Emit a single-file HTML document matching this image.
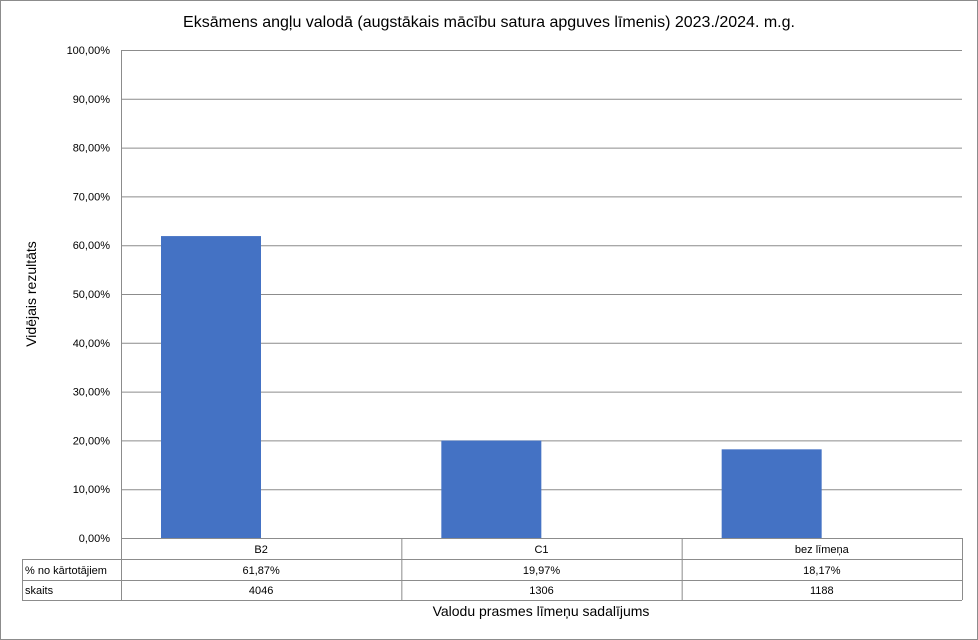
<!DOCTYPE html>
<html><head><meta charset="utf-8"><style>
body{margin:0;background:#fff}
svg{display:block;font-family:"Liberation Sans","DejaVu Sans",sans-serif}
</style></head><body>
<svg id="c" width="978" height="640" viewBox="0 0 978 640">
<rect x="0.5" y="0.5" width="977" height="639" fill="#fff" stroke="#8c8c8c"/>
<text x="489" y="27" text-anchor="middle" font-size="16" fill="#000">Eksāmens angļu valodā (augstākais mācību satura apguves līmenis) 2023./2024. m.g.</text>
<text transform="translate(36,294) rotate(-90)" text-anchor="middle" font-size="14">Vidējais rezultāts</text>
<text x="541" y="616" text-anchor="middle" font-size="14">Valodu prasmes līmeņu sadalījums</text>
<g id="grid"></g><g id="bars"></g><g id="table"></g>
</svg>
<script>
const categories=["B2","C1","bez līmeņa"];
const values=[61.87,19.97,18.17];
const counts=[4046,1306,1188];
const pctLabels=["61,87%","19,97%","18,17%"];
const yTicks=[0,10,20,30,40,50,60,70,80,90,100];
const NS="http://www.w3.org/2000/svg";
const X0=121,X1=962,Y0=538,Y1=50;
const cw=(X1-X0)/categories.length;
const y=v=>Y0-(v/100)*(Y0-Y1);
const xCat=i=>X0+i*cw;
function mk(t,a,p){const e=document.createElementNS(NS,t);for(const k in a)e.setAttribute(k,a[k]);p.appendChild(e);return e;}
const grid=document.getElementById('grid'),bars=document.getElementById('bars'),tbl=document.getElementById('table');
yTicks.forEach(t=>{
 const l=mk('line',{x1:X0,x2:X1,y1:y(t)+0.5,y2:y(t)+0.5,stroke:'#8c8c8c'},grid);
 
 
 const tx=mk('text',{x:110,y:y(t)+4,'text-anchor':'end','font-size':11},grid);
 tx.textContent=t.toFixed(2).replace('.',',')+'%';
 
 
});
values.forEach((v,i)=>{
 const r=mk('rect',{x:xCat(i)+40,y:y(v),width:100,height:Y0-y(v),fill:'#4472c4'},bars);
 
 
});
const rows=[538,559,580,600];
const st={stroke:'#8c8c8c',fill:'none'};
[[X0,Y1,X0,600]].forEach(a=>{const l=mk('line',{x1:a[0]+0.5,y1:a[1],x2:a[2]+0.5,y2:a[3],stroke:'#8c8c8c'},tbl);});
rows.forEach((r,k)=>{const l=mk('line',{x1:k==0?X0:22,x2:X1,y1:r+0.5,y2:r+0.5,stroke:'#8c8c8c'},tbl);});
const ll=mk('line',{x1:22.5,x2:22.5,y1:559,y2:600,stroke:'#8c8c8c'},tbl);


categories.forEach((c,i)=>{
 const l=mk('line',{x1:xCat(i+1)+0.5,x2:xCat(i+1)+0.5,y1:538,y2:600,stroke:'#8c8c8c'},tbl);
 
 
 const cx=xCat(i)+cw/2;
 [[c,553,'category-label'],[pctLabels[i],574,'pct-cell'],[String(counts[i]),594,'count-cell']].forEach(d=>{
  const t=mk('text',{x:cx,y:d[1],'text-anchor':'middle','font-size':11},tbl);
  t.textContent=d[0];
  
  
 });
});
[["% no kārtotājiem",574,'row-header-pct'],["skaits",594,'row-header-count']].forEach(d=>{
 const t=mk('text',{x:25,y:d[1],'font-size':11},tbl);
 t.textContent=d[0];
 
 
});
</script>
</body></html>
